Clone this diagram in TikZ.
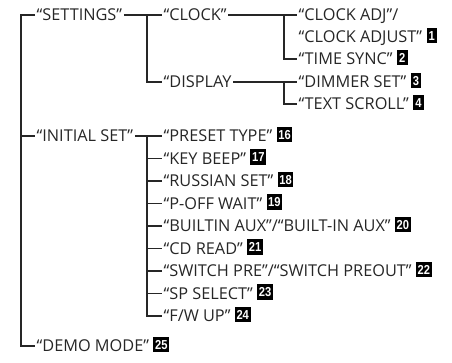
\documentclass[tikz,border=0pt]{standalone}
\usepackage{fontspec}
\setmainfont{Open Sans}
\newfontfamily\numfont[FakeStretch=0.86]{Liberation Sans}
\begin{document}
\begin{tikzpicture}[x=1pt,y=-1pt,
  lbl/.style={anchor=west, inner xsep=1.5pt, inner ysep=0pt, text height=11.5pt, text depth=0pt,
    font=\fontsize{16.3}{19}\selectfont, text=black!85},
  num/.style={anchor=west, fill=black, text=white, inner xsep=1.6pt, inner ysep=0pt,
    minimum height=15.5pt, minimum width=10.5pt, text height=9.2pt, text depth=0pt,
    font=\numfont\fontsize{13}{15}\selectfont\bfseries},
  conn/.style={draw=black!85, line width=1.3pt}]
\useasboundingbox (0,0) rectangle (452,363);
\coordinate (t1) at (21,0);
\coordinate (t2) at (147,0);
\coordinate (t3) at (284,0);
% level 1
\node[lbl] (settings) at (35,15) {“SETTINGS”};
\node[lbl] (initial) at (35,136) {“INITIAL SET”};
\node[lbl] (demo) at (35,346) {“DEMO MODE”};
% level 2
\node[lbl] (clock) at (162,15) {“CLOCK”};
\node[lbl] (display) at (162,82) {“DISPLAY};
\node[lbl] (preset) at (162,136) {“PRESET TYPE”};
\node[lbl] (keybeep) at (162,158.5) {“KEY BEEP”};
\node[lbl] (russian) at (162,181) {“RUSSIAN SET”};
\node[lbl] (poff) at (162,203.5) {“P-OFF WAIT”};
\node[lbl] (builtin) at (162,226) {“BUILTIN AUX”/“BUILT-IN AUX”};
\node[lbl] (cdread) at (162,248.5) {“CD READ”};
\node[lbl] (switchpre) at (162,271) {“SWITCH PRE”/“SWITCH PREOUT”};
\node[lbl] (spselect) at (162,293.5) {“SP SELECT”};
\node[lbl] (fwup) at (162,316) {“F/W UP”};
% level 3
\node[lbl] (clockadj) at (297,15) {“CLOCK ADJ”/};
\node[lbl] (clockadjust) at (297,37) {“CLOCK ADJUST”};
\node[lbl] (timesync) at (297,59) {“TIME SYNC”};
\node[lbl] (dimmer) at (297,82) {“DIMMER SET”};
\node[lbl] (textscroll) at (297,104) {“TEXT SCROLL”};
% numbers
\foreach \n/\t in {clockadjust/1, timesync/2, dimmer/3, textscroll/4, preset/16, keybeep/17,
  russian/18, poff/19, builtin/20, cdread/21, switchpre/22, spselect/23, fwup/24, demo/25}
  \node[num] (n\t) at ([xshift=2.5pt,yshift=1.3pt]\n.east) {\t};
% connectors level 1
\draw[conn] (settings.west) -- (settings.west -| t1) -- (demo.west -| t1) -- (demo.west);
\draw[conn] (initial.west -| t1) -- (initial.west);
% level 2
\draw[conn] (settings.east) -- (clock.west);
\draw[conn] (settings.east -| t2) |- (display.west);
\draw[conn] (initial.east) -- (preset.west);
\draw[conn] (initial.east -| t2) |- (fwup.west);
\foreach \c in {keybeep, russian, poff, builtin, cdread, switchpre, spselect}
  \draw[conn] (\c.west -| t2) -- (\c.west);
% level 3
\draw[conn] (clock.east) -- (clockadj.west);
\draw[conn] (clock.east -| t3) |- (timesync.west);
\draw[conn] (display.east) -- (dimmer.west);
\draw[conn] (display.east -| t3) |- (textscroll.west);
\end{tikzpicture}
\end{document}
